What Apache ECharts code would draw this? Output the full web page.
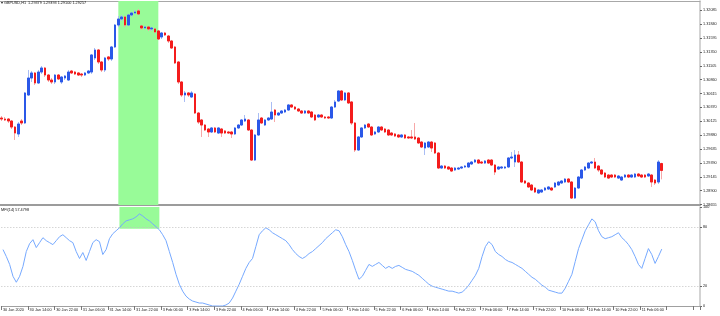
<!DOCTYPE html>
<html>
<head>
<meta charset="utf-8">
<script src="https://cdn.jsdelivr.net/npm/echarts@6.0.0/dist/echarts.min.js"></script>
<style>
  html, body { margin: 0; padding: 0; background: #fff; }
  #chart { width: 720px; height: 316px; }
</style>
</head>
<body>
<div id="chart"></div>
<script>
// GBPUSD H1 bars, 30 Jan 2020 06:00 -> 11 Feb 2020 12:00
const opens = [
  1.30183,1.30165,1.30165,1.30130,1.30024,1.29901,1.30130,1.30095,1.30589,1.30889,
  1.30978,1.30801,1.30995,1.31066,1.30942,1.30854,1.30819,1.30942,1.30819,1.30889,
  1.30854,1.31013,1.30995,1.30978,1.30960,1.30942,1.30978,1.30995,1.31243,1.31384,
  1.31172,1.31031,1.31261,1.31225,1.31437,1.31825,1.31931,1.31967,1.31825,1.32002,
  1.32037,1.32073,1.31808,1.31772,1.31790,1.31755,1.31755,1.31720,1.31614,1.31684,
  1.31631,1.31543,1.31437,1.31172,1.30819,1.30589,1.30625,1.30554,1.30607,1.30271,
  1.30148,1.30059,1.29989,1.29936,1.30007,1.29918,1.29989,1.29954,1.29936,1.29936,
  1.29901,1.30007,1.30059,1.30130,1.30148,1.29971,1.29441,1.29883,1.30183,1.30059,
  1.30148,1.30165,1.30324,1.30236,1.30271,1.30289,1.30324,1.30413,1.30377,1.30342,
  1.30307,1.30271,1.30307,1.30289,1.30236,1.30201,1.30236,1.30201,1.30201,1.30183,
  1.30377,1.30483,1.30660,1.30501,1.30625,1.30466,1.30095,1.29618,1.29848,1.30007,
  1.30077,1.30024,1.29901,1.29936,1.30024,1.29989,1.29971,1.29918,1.29901,1.29883,
  1.29848,1.29883,1.29848,1.29848,1.29848,1.29830,1.29759,1.29653,1.29671,1.29759,
  1.29742,1.29565,1.29300,1.29335,1.29318,1.29300,1.29265,1.29282,1.29300,1.29318,
  1.29318,1.29371,1.29406,1.29441,1.29406,1.29388,1.29441,1.29441,1.29353,1.29282,
  1.29300,1.29300,1.29318,1.29477,1.29406,1.29530,1.29406,1.29071,1.29035,1.29000,
  1.28947,1.28859,1.28876,1.28912,1.28929,1.28947,1.28965,1.29000,1.29035,1.29053,
  1.29106,1.29053,1.28770,1.28947,1.29123,1.29265,1.29300,1.29388,1.29406,1.29335,
  1.29265,1.29212,1.29176,1.29176,1.29176,1.29123,1.29088,1.29141,1.29176,1.29141,
  1.29141,1.29194,1.29176,1.29176,1.29159,1.29176,1.29088,1.29053,1.29379
];
const closes = [
  1.30165,1.30148,1.30130,1.30024,1.29918,1.30077,1.30095,1.30625,1.30889,1.30978,
  1.30801,1.30995,1.31066,1.30942,1.30854,1.30819,1.30942,1.30872,1.30907,1.30925,
  1.30995,1.30978,1.30960,1.30942,1.30942,1.30978,1.31013,1.31296,1.31384,1.31172,
  1.31031,1.31243,1.31225,1.31437,1.31825,1.31931,1.31967,1.31825,1.32002,1.32037,
  1.32055,1.32020,1.31772,1.31790,1.31755,1.31772,1.31702,1.31578,1.31684,1.31649,
  1.31543,1.31419,1.31154,1.30819,1.30589,1.30625,1.30589,1.30625,1.30271,1.30112,
  1.30059,1.29971,1.29936,1.30007,1.29936,1.30007,1.29918,1.29918,1.29918,1.29901,
  1.30007,1.30059,1.30148,1.30165,1.29971,1.29441,1.29883,1.30148,1.30095,1.30148,
  1.30183,1.30289,1.30236,1.30271,1.30307,1.30324,1.30413,1.30377,1.30342,1.30307,
  1.30271,1.30307,1.30271,1.30201,1.30148,1.30236,1.30201,1.30183,1.30183,1.30377,
  1.30466,1.30660,1.30501,1.30625,1.30448,1.30095,1.29618,1.29848,1.30007,1.30059,
  1.30024,1.29883,1.29936,1.30024,1.29971,1.29936,1.29883,1.29883,1.29865,1.29848,
  1.29883,1.29830,1.29830,1.29830,1.29812,1.29742,1.29671,1.29742,1.29759,1.29653,
  1.29565,1.29300,1.29335,1.29300,1.29282,1.29247,1.29300,1.29300,1.29318,1.29335,
  1.29388,1.29406,1.29441,1.29388,1.29388,1.29424,1.29388,1.29353,1.29229,1.29318,
  1.29318,1.29318,1.29477,1.29494,1.29530,1.29406,1.29053,1.29035,1.28965,1.28912,
  1.28876,1.28912,1.28912,1.28947,1.28965,1.28912,1.29035,1.29053,1.29071,1.29106,
  1.29053,1.28770,1.28947,1.29141,1.29265,1.29318,1.29388,1.29406,1.29300,1.29265,
  1.29194,1.29141,1.29123,1.29141,1.29141,1.29159,1.29141,1.29176,1.29141,1.29176,
  1.29194,1.29159,1.29141,1.29141,1.29194,1.29053,1.29035,1.29406,1.29257
];
const highs = [
  1.30218,1.30201,1.30183,1.30148,1.30042,1.30112,1.30165,1.30642,1.31031,1.31013,
  1.30995,1.31031,1.31101,1.31084,1.30960,1.30889,1.30960,1.30960,1.30925,1.30942,
  1.31031,1.31031,1.31013,1.30995,1.30978,1.30995,1.31031,1.31313,1.31419,1.31402,
  1.31190,1.31261,1.31278,1.31455,1.31843,1.31984,1.32002,1.31984,1.32020,1.32055,
  1.32090,1.32108,1.31825,1.31808,1.31808,1.31790,1.31772,1.31737,1.31702,1.31702,
  1.31649,1.31561,1.31455,1.31190,1.30836,1.30660,1.30642,1.30660,1.30625,1.30289,
  1.30165,1.30077,1.30007,1.30024,1.30024,1.30024,1.30007,1.29971,1.29954,1.29954,
  1.30024,1.30077,1.30165,1.30236,1.30165,1.29989,1.29901,1.30271,1.30201,1.30165,
  1.30201,1.30466,1.30342,1.30289,1.30324,1.30342,1.30430,1.30430,1.30395,1.30360,
  1.30324,1.30324,1.30324,1.30307,1.30254,1.30254,1.30254,1.30218,1.30218,1.30395,
  1.30501,1.30677,1.30677,1.30642,1.30642,1.30483,1.30112,1.29865,1.30024,1.30077,
  1.30095,1.30042,1.29954,1.30042,1.30042,1.30007,1.29989,1.29936,1.29918,1.29901,
  1.29901,1.29901,1.29865,1.29971,1.30095,1.29848,1.29777,1.29759,1.29777,1.29777,
  1.29759,1.29583,1.29353,1.29353,1.29335,1.29318,1.29318,1.29318,1.29335,1.29353,
  1.29406,1.29424,1.29459,1.29459,1.29424,1.29441,1.29459,1.29459,1.29371,1.29335,
  1.29335,1.29335,1.29494,1.29583,1.29618,1.29600,1.29424,1.29088,1.29053,1.29018,
  1.28965,1.28929,1.28929,1.28965,1.28982,1.28965,1.29053,1.29071,1.29088,1.29123,
  1.29123,1.29071,1.28965,1.29159,1.29282,1.29335,1.29406,1.29424,1.29477,1.29353,
  1.29282,1.29229,1.29194,1.29194,1.29194,1.29176,1.29159,1.29194,1.29194,1.29194,
  1.29212,1.29212,1.29194,1.29194,1.29212,1.29194,1.29106,1.29441,1.29393
];
const lows = [
  1.30130,1.30130,1.30095,1.29989,1.29795,1.29848,1.30059,1.30077,1.30572,1.30819,
  1.30766,1.30783,1.30960,1.30907,1.30819,1.30783,1.30783,1.30854,1.30783,1.30854,
  1.30836,1.30960,1.30942,1.30925,1.30907,1.30925,1.30960,1.30960,1.31207,1.31137,
  1.30995,1.30995,1.31190,1.31190,1.31419,1.31790,1.31896,1.31790,1.31808,1.31967,
  1.32020,1.32002,1.31737,1.31755,1.31720,1.31720,1.31684,1.31561,1.31578,1.31631,
  1.31508,1.31402,1.31137,1.30783,1.30554,1.30466,1.30554,1.30536,1.30254,1.30077,
  1.29848,1.29954,1.29848,1.29918,1.29918,1.29901,1.29848,1.29901,1.29901,1.29830,
  1.29883,1.29989,1.30042,1.30112,1.29954,1.29424,1.29424,1.29865,1.30077,1.30042,
  1.30130,1.30148,1.30112,1.30218,1.30254,1.30271,1.30307,1.30360,1.30324,1.30289,
  1.30254,1.30254,1.30254,1.30183,1.30130,1.30183,1.30183,1.30165,1.30165,1.30165,
  1.30360,1.30466,1.30483,1.30483,1.30430,1.30059,1.29583,1.29600,1.29830,1.29989,
  1.30007,1.29865,1.29883,1.29918,1.29954,1.29918,1.29865,1.29865,1.29848,1.29830,
  1.29830,1.29812,1.29812,1.29812,1.29795,1.29724,1.29653,1.29530,1.29653,1.29583,
  1.29547,1.29282,1.29282,1.29282,1.29265,1.29229,1.29247,1.29265,1.29282,1.29300,
  1.29300,1.29353,1.29388,1.29371,1.29371,1.29371,1.29371,1.29335,1.29176,1.29265,
  1.29282,1.29282,1.29300,1.29459,1.29318,1.29388,1.29035,1.29018,1.28947,1.28894,
  1.28859,1.28841,1.28859,1.28894,1.28912,1.28894,1.28947,1.28982,1.29018,1.29035,
  1.29035,1.28753,1.28753,1.28929,1.29106,1.29247,1.29282,1.29371,1.29282,1.29229,
  1.29176,1.29123,1.29106,1.29123,1.29123,1.29106,1.29071,1.29123,1.29123,1.29123,
  1.29123,1.29141,1.29123,1.29123,1.29141,1.28965,1.29000,1.29018,1.29100
];
// MFI(14) per bar
const mfi = [
  57,50,42,30,24,30,40,55,63,67,
  59,64,69,66,64,62,66,70,72,69,
  66,64,55,48,54,46,55,64,67,65,
  52,57,68,73,76,79,83,86,87,88,
  90,93,91,88,86,83,80,77,72,66,
  55,44,32,22,15,10,7,5,4,3,
  3,2,1,0,0,0,0,1,3,8,
  15,22,30,38,44,48,60,72,76,79,
  77,74,72,70,68,66,62,57,53,50,
  48,50,53,55,58,61,64,68,71,74,
  77,76,70,62,55,46,36,27,30,36,
  42,40,42,44,41,38,40,38,40,41,
  39,37,36,35,33,31,28,25,22,20,
  19,18,17,16,15,15,14,13,14,17,
  21,26,31,38,50,60,65,62,55,52,
  50,47,45,44,42,40,38,35,32,29,
  27,24,21,19,16,15,14,13,13,18,
  25,32,45,58,67,76,82,88,85,76,
  70,68,69,70,72,74,69,66,62,57,
  50,42,38,48,58,52,43,50,57.4798
];

const priceTicks = [1.32085, 1.31840, 1.31595, 1.31350, 1.31105, 1.30860, 1.30615, 1.30370,
  1.30125, 1.29880, 1.29635, 1.29390, 1.29145, 1.28900, 1.28655];
const mfiTicks = [0, 20, 80, 100];
const mfiLevels = [20, 80];
const tickLabels = ['30 Jan 2020', '30 Jan 14:00', '30 Jan 22:00', '31 Jan 06:00', '31 Jan 14:00',
  '31 Jan 22:00', '3 Feb 06:00', '3 Feb 14:00', '3 Feb 22:00', '4 Feb 06:00', '4 Feb 14:00',
  '4 Feb 22:00', '5 Feb 06:00', '5 Feb 14:00', '5 Feb 22:00', '6 Feb 06:00', '6 Feb 14:00',
  '6 Feb 22:00', '7 Feb 06:00', '7 Feb 14:00', '7 Feb 22:00', '10 Feb 06:00', '10 Feb 14:00',
  '10 Feb 22:00', '11 Feb 06:00'];
const highlightFrom = 35;   // 31 Jan 17:00
const highlightTo = 47;     // 3 Feb 05:00
const highlightMfiLow = 78;

// hourly bars, weekends skipped, with some empty room on the right (chart shift)
const categories = [];
let t = Date.UTC(2020, 0, 30, 6);
while (categories.length < 210) {
  const d = new Date(t);
  const wd = d.getUTCDay();
  if (wd !== 0 && wd !== 6) {
    categories.push(d.getUTCDate() + '.' + (d.getUTCMonth() + 1) + ' ' + String(d.getUTCHours()).padStart(2, '0') + ':00');
  }
  t += 3600000;
}

const wickData = opens.map((o, i) => [o, closes[i], lows[i], highs[i]]);
const bodyData = opens.map((o, i) => [o, closes[i], Math.min(o, closes[i]), Math.max(o, closes[i])]);
const lastClose = closes[closes.length - 1];

const BLUE = '#2b58e8';
const RED = '#f41c1c';
const FONT = 'Liberation Sans';
const FS = 3.8;

const chart = echarts.init(document.getElementById('chart'));

const option = {
  animation: false,
  backgroundColor: '#ffffff',
  textStyle: { fontFamily: FONT },
  title: [
    {
      text: '\u25BE GBPUSD,H1  1.29379 1.29393 1.29100 1.29257',
      left: 1, top: 1, padding: 0,
      textStyle: { fontSize: FS, fontWeight: 'normal', color: '#111', fontFamily: FONT }
    },
    {
      text: 'MFI(14) 57.4798',
      left: 1, top: 208, padding: 0,
      textStyle: { fontSize: FS, fontWeight: 'normal', color: '#111', fontFamily: FONT }
    }
  ],
  grid: [
    { left: 0, right: 20, top: 1, height: 204 },
    { left: 0, right: 20, top: 207, height: 99 }
  ],
  xAxis: [
    {
      type: 'category', gridIndex: 0, data: categories, boundaryGap: true,
      axisLine: { show: true, lineStyle: { color: '#9c9c9c', width: 2 } },
      axisTick: { show: false }, axisLabel: { show: false }, splitLine: { show: false }
    },
    {
      type: 'category', gridIndex: 0, data: categories, position: 'top',
      axisLine: { show: true, lineStyle: { color: '#a8a8a8', width: 1 } },
      axisTick: { show: false }, axisLabel: { show: false }
    },
    {
      type: 'category', gridIndex: 1, data: categories, boundaryGap: true,
      axisLine: { show: true, lineStyle: { color: '#a0a0a0', width: 1 } },
      axisTick: {
        show: true, length: 4, interval: (i) => i % 8 === 0,
        lineStyle: { color: '#777' }
      },
      axisLabel: {
        show: true, interval: (i) => i % 8 === 0, align: 'left', margin: 2,
        fontSize: FS, color: '#222', fontFamily: FONT,
        formatter: (v, i) => tickLabels[i / 8] || ''
      },
      splitLine: { show: false }
    }
  ],
  yAxis: [
    {
      type: 'value', gridIndex: 0, position: 'right', scale: true,
      min: 1.28647, max: 1.32249,
      axisLine: { show: true, lineStyle: { color: '#c4c4c4', width: 1.5 } },
      axisTick: { show: true, length: 2, customValues: priceTicks, lineStyle: { color: '#666' } },
      axisLabel: {
        show: true, customValues: priceTicks, margin: 3, fontSize: FS, color: '#222',
        fontFamily: FONT, formatter: (v) => v.toFixed(5)
      },
      splitLine: { show: false }
    },
    {
      type: 'value', gridIndex: 1, position: 'right', min: 0, max: 100,
      axisLine: { show: true, lineStyle: { color: '#c4c4c4', width: 1.5 } },
      axisTick: { show: true, length: 2, customValues: mfiTicks, lineStyle: { color: '#666' } },
      axisLabel: {
        show: true, customValues: mfiTicks, margin: 3, fontSize: FS, color: '#222',
        fontFamily: FONT
      },
      splitLine: { show: false }
    }
  ],
  series: [
    {
      // highlighted period, main pane
      type: 'line', xAxisIndex: 0, yAxisIndex: 0, data: [], z: 1, silent: true,
      markArea: {
        silent: true,
        itemStyle: { color: '#98fb98', opacity: 1 },
        data: [[{ xAxis: categories[highlightFrom] }, { xAxis: categories[highlightTo] }]]
      }
    },
    {
      // highlighted period, MFI pane top
      type: 'line', xAxisIndex: 2, yAxisIndex: 1, data: [], z: 1, silent: true,
      markArea: {
        silent: true,
        itemStyle: { color: '#98fb98', opacity: 1 },
        data: [[{ xAxis: categories[highlightFrom], yAxis: highlightMfiLow },
                { xAxis: categories[highlightTo], yAxis: 100 }]]
      }
    },
    {
      name: 'wicks', type: 'candlestick', xAxisIndex: 0, yAxisIndex: 0, z: 3,
      data: wickData, barWidth: 2,
      itemStyle: {
        color: 'rgba(0,0,0,0)', color0: 'rgba(0,0,0,0)',
        borderColor: '#a9bdf4', borderColor0: '#f7a8a8', borderWidth: 1
      }
    },
    {
      name: 'bodies', type: 'candlestick', xAxisIndex: 0, yAxisIndex: 0, z: 4,
      data: bodyData, barWidth: 2,
      itemStyle: {
        color: BLUE, color0: RED, borderColor: BLUE, borderColor0: RED, borderWidth: 1
      },
      markLine: {
        silent: true, symbol: 'none',
        lineStyle: { opacity: 0 },
        label: {
          show: true, position: 'end', distance: 2,
          formatter: () => lastClose.toFixed(5),
          backgroundColor: '#000', color: '#fff', fontSize: FS,
          padding: [1, 1, 0.5, 1], fontFamily: FONT
        },
        data: [{ yAxis: lastClose }]
      }
    },
    {
      name: 'MFI(14)', type: 'line', xAxisIndex: 2, yAxisIndex: 1, z: 3,
      data: mfi, symbol: 'none', smooth: false,
      lineStyle: { color: '#76a9ff', width: 1 },
      markLine: {
        silent: true, symbol: 'none',
        lineStyle: { color: '#c2c2c2', type: [1, 2], width: 1 },
        label: { show: false },
        data: mfiLevels.map((v) => ({ yAxis: v }))
      }
    }
  ]
};

chart.setOption(option);
</script>
</body>
</html>
